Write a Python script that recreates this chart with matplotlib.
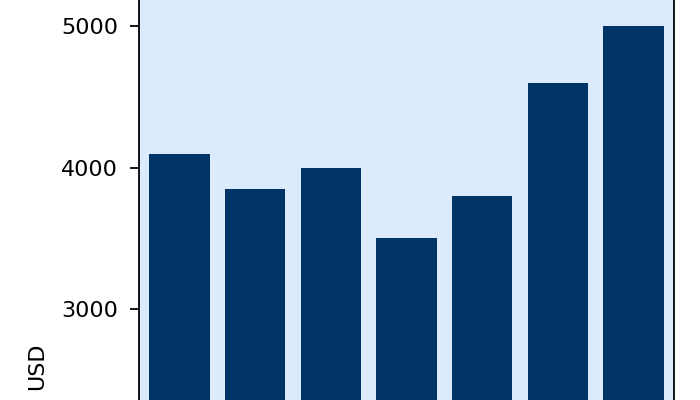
import matplotlib
matplotlib.use("Agg")
import matplotlib.pyplot as plt

# datos (USD por categoría)
categorias = ["A", "B", "C", "D", "E", "F", "G"]
valores = [4100, 3850, 4000, 3500, 3800, 4600, 5000]
ticks_y = [3000, 4000, 5000]

COLOR_BARRA = "#003366"
COLOR_FONDO = "#dbebfb"


def main():
    fig = plt.figure(figsize=(700 / 160, 400 / 160), dpi=160)
    # el gráfico original está recortado: los ejes sobresalen arriba y abajo
    ax = fig.add_axes([139 / 700, -0.05, 535 / 700, 1.1])
    ax.set_facecolor(COLOR_FONDO)

    ax.bar(categorias, valores, width=0.8, color=COLOR_BARRA)
    # las etiquetas del eje x quedan fuera del recorte
    ax.tick_params(axis="x", labelbottom=False)
    ax.tick_params(axis="y", length=4, pad=5.5)

    ax.set_xlim(-0.535, 6.535)
    ax.set_ylim(2216, 5327)
    ax.set_yticks(ticks_y)

    ax.set_ylabel("USD")
    ax.yaxis.set_label_coords(-0.171, 0.123)

    fig.savefig("out.png", dpi=160)
    plt.close(fig)


if __name__ == "__main__":
    main()
